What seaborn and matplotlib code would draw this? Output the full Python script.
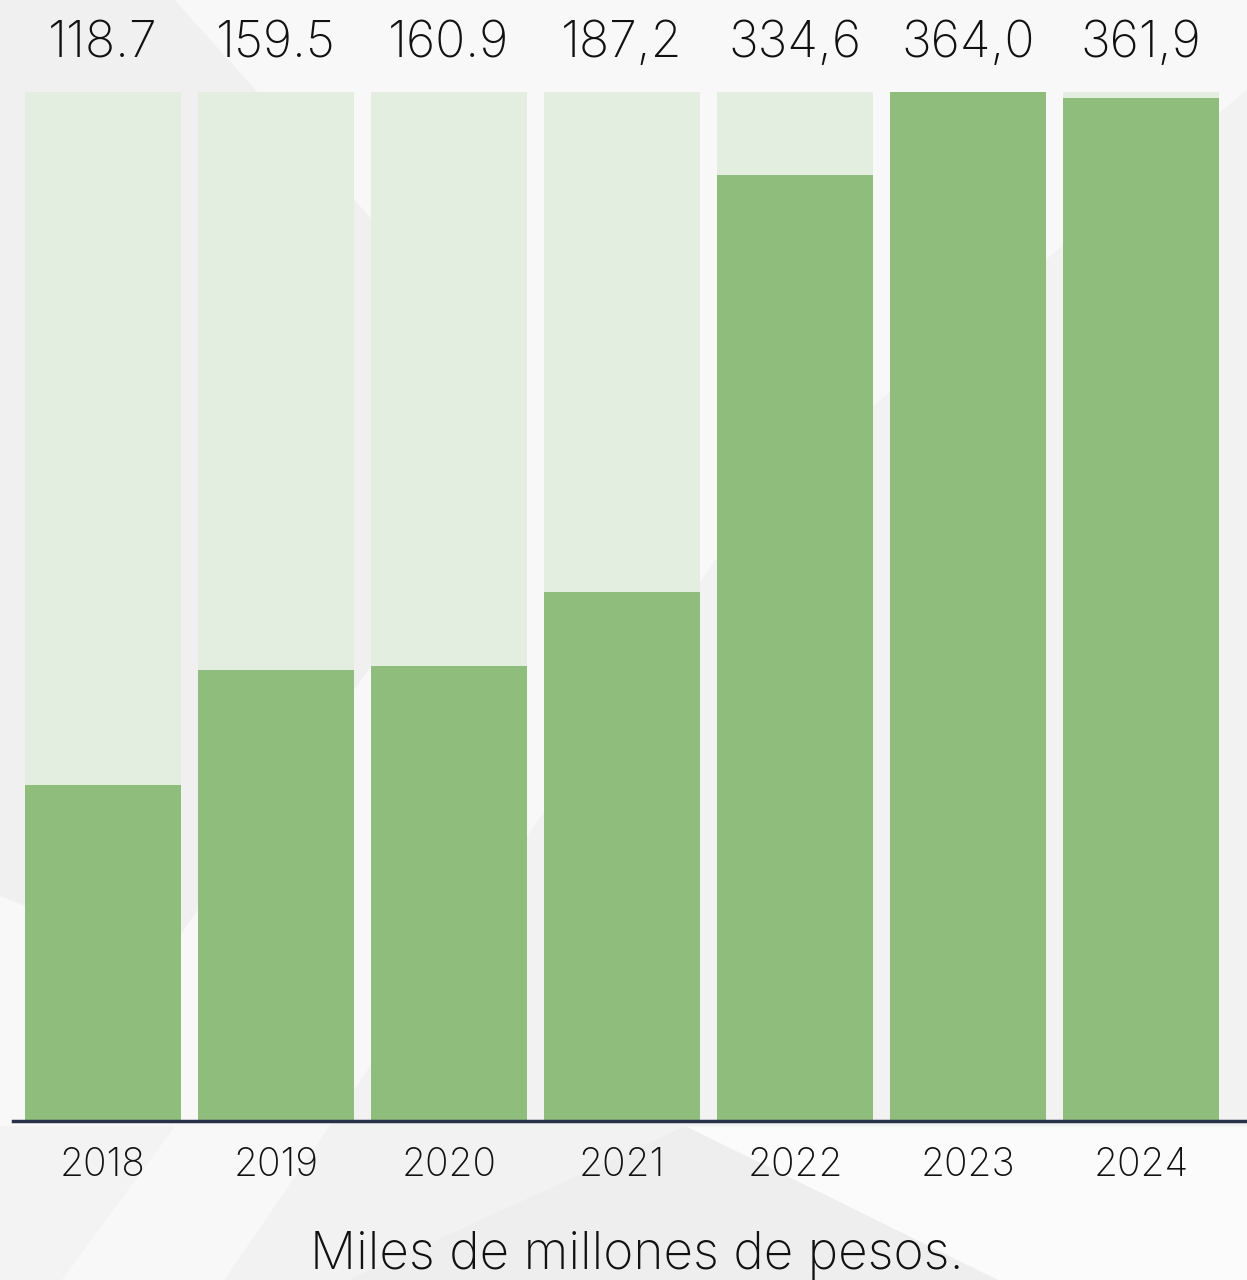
import matplotlib
matplotlib.use("Agg")
import matplotlib.pyplot as plt
import matplotlib.patches as mpatches
import numpy as np
import pandas as pd
import seaborn as sns

years = ["2018", "2019", "2020", "2021", "2022", "2023", "2024"]
values = [118.7, 159.5, 160.9, 187.2, 334.6, 364.0, 361.9]
value_labels = ["118.7", "159.5", "160.9", "187,2", "334,6", "364,0", "361,9"]

df = pd.DataFrame({"year": years, "value": values})
df["full"] = df["value"].max()

sns.set_theme(style="white")
plt.rcParams["font.family"] = ["Inter", "DejaVu Sans"]

fig = plt.figure(figsize=(12.47, 12.8), dpi=100)
fig.patch.set_facecolor("#f2f2f2")

# background axes for the decorative shapes
bg = fig.add_axes([0, 0, 1, 1], zorder=0)
bg.set_xlim(0, 1)
bg.set_ylim(0, 1)
bg.axis("off")
bg.add_patch(mpatches.Polygon(
    [(0, 1), (1, 1), (1, 0.93), (0.6, 0.6), (0.18, 0.0), (0, 0.0)],
    closed=True, facecolor="#f8f8f8", edgecolor="none"))
bg.add_patch(mpatches.Polygon(
    [(0, 1), (0.14, 1), (0.38, 0.74), (0.42, 0.67), (0.40, 0.62), (0.13, 0.25), (0.0, 0.3)],
    closed=True, facecolor="#f0f0f0", edgecolor="none"))
bg.add_patch(mpatches.Polygon(
    [(0.14, 0.12), (1.0, 0.12), (1.0, 0.0), (0.8, 0.0), (0.55, 0.12)],
    closed=True, facecolor="#fbfbfb", edgecolor="none"))
bg.add_patch(mpatches.Polygon(
    [(0.55, 0.12), (0.8, 0.0), (0.28, 0.0)],
    closed=True, facecolor="#eeeeee", edgecolor="none"))
bg.add_patch(mpatches.Polygon(
    [(0.14, 0.12), (0.0, 0.12), (0.0, 0.0), (0.05, 0.0)],
    closed=True, facecolor="#f3f3f3", edgecolor="none"))

ax = fig.add_axes([0.0104, 0.1242, 0.9896, 0.8039], zorder=1)
ax.set_facecolor("none")

sns.barplot(data=df, x="year", y="full", color="#e3ede0", width=0.9,
            saturation=1, linewidth=0, ax=ax, zorder=1)
sns.barplot(data=df, x="year", y="value", color="#8fbd7b", width=0.9,
            saturation=1, linewidth=0, ax=ax, zorder=2)

ax.set_xlim(-0.52, 6.613)
ax.set_ylim(0, df["full"].max())

for i, lab in enumerate(value_labels):
    ax.text(i, df["full"].max() + 17, lab, ha="center", va="center",
            fontsize=36, fontweight="light", color="#111111", clip_on=False)

ax.set_xlabel("")
ax.set_ylabel("")
ax.set_yticks([])
ax.tick_params(axis="x", length=0, pad=19, labelsize=28, labelcolor="#111111")
for t in ax.get_xticklabels():
    t.set_fontweight("light")

for s in ["top", "right", "left"]:
    ax.spines[s].set_visible(False)
ax.spines["bottom"].set_color("#283148")
ax.spines["bottom"].set_linewidth(2.5)
ax.spines["bottom"].set_zorder(3)

fig.text(0.511, 0.019, "Miles de millones de pesos.", ha="center", va="center",
         fontsize=37, fontweight="light", color="#111111")

fig.savefig("out.png", dpi=100, facecolor=fig.get_facecolor())
